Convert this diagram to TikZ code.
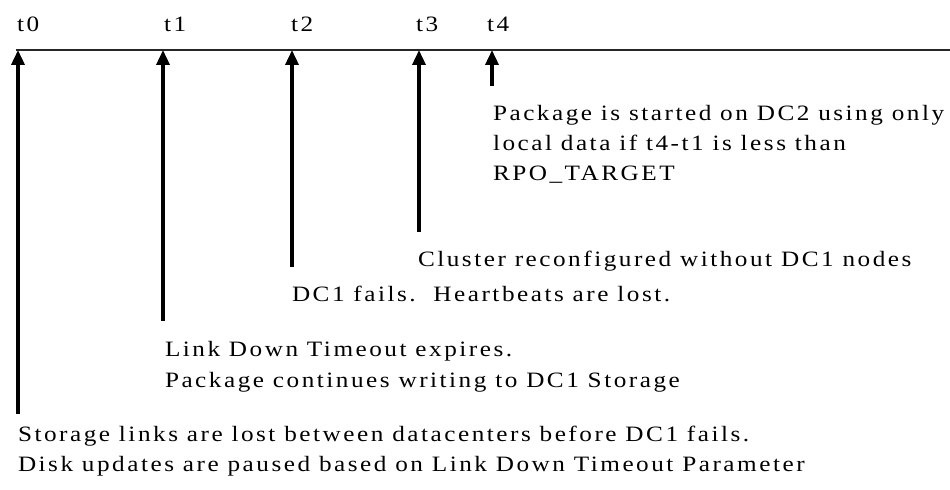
\documentclass[tikz,border=0pt]{standalone}
\usepackage{graphicx}
\usepackage{fontspec}
\setmainfont{Liberation Serif}[LetterSpace=10]
\usetikzlibrary{arrows.meta}
\newcommand\widetxt[1]{\scalebox{1.15}[1]{#1}}
\begin{document}
\begin{tikzpicture}[x=1bp,y=-1bp,
  every node/.style={inner sep=0pt, outer sep=0pt},
  desc/.style={anchor=base west, font=\fontsize{22}{30}\selectfont},
  tlabel/.style={anchor=base west, font=\fontsize{22}{30}\selectfont},
  evt/.style={-{Triangle[width=13bp,length=15bp]}, line width=3.5bp},
  axisline/.style={line width=1.8bp, black!85}]
\useasboundingbox (0,0) rectangle (950,490);
% axis
\coordinate (axL) at (16,50);
\coordinate (axR) at (950,50);
\draw[axisline] (axL) -- (axR);
% time labels
\node[tlabel] (l0) at (17,32) {\widetxt{t0}};
\node[tlabel] (l1) at (164,32) {\widetxt{t1}};
\node[tlabel] (l2) at (291,32) {\widetxt{t2}};
\node[tlabel] (l3) at (416,32) {\widetxt{t3}};
\node[tlabel] (l4) at (487,32) {\widetxt{t4}};
% axis points
\coordinate (a0) at (18,50);
\coordinate (a1) at (163,50);
\coordinate (a2) at (292,50);
\coordinate (a3) at (419,50);
\coordinate (a4) at (492,50);
% arrow feet
\coordinate (e0) at (18,414);
\coordinate (e1) at (163,321);
\coordinate (e2) at (292,267);
\coordinate (e3) at (419,232);
\coordinate (e4) at (492,86);
\draw[evt] (e0) -- (a0);
\draw[evt] (e1) -- (a1);
\draw[evt] (e2) -- (a2);
\draw[evt] (e3) -- (a3);
\draw[evt] (e4) -- (a4);
% descriptions
\node[desc] (d4a) at (493,121) {\widetxt{Package is started on DC2 using only}};
\node[desc] (d4b) at (493,151) {\widetxt{local data if t4-t1 is less than}};
\node[desc] (d4c) at (493,181) {\widetxt{RPO\_TARGET}};
\node[desc] (d3) at (418,267) {\widetxt{Cluster reconfigured without DC1 nodes}};
\node[desc] (d2) at (292,302) {\widetxt{DC1 fails.\ \ Heartbeats are lost.}};
\node[desc] (d1a) at (165,357) {\widetxt{Link Down Timeout expires.}};
\node[desc] (d1b) at (165,387) {\widetxt{Package continues writing to DC1 Storage}};
\node[desc] (d0a) at (18,441) {\widetxt{Storage links are lost between datacenters before DC1 fails.}};
\node[desc] (d0b) at (18,471) {\widetxt{Disk updates are paused based on Link Down Timeout Parameter}};
\end{tikzpicture}
\end{document}
